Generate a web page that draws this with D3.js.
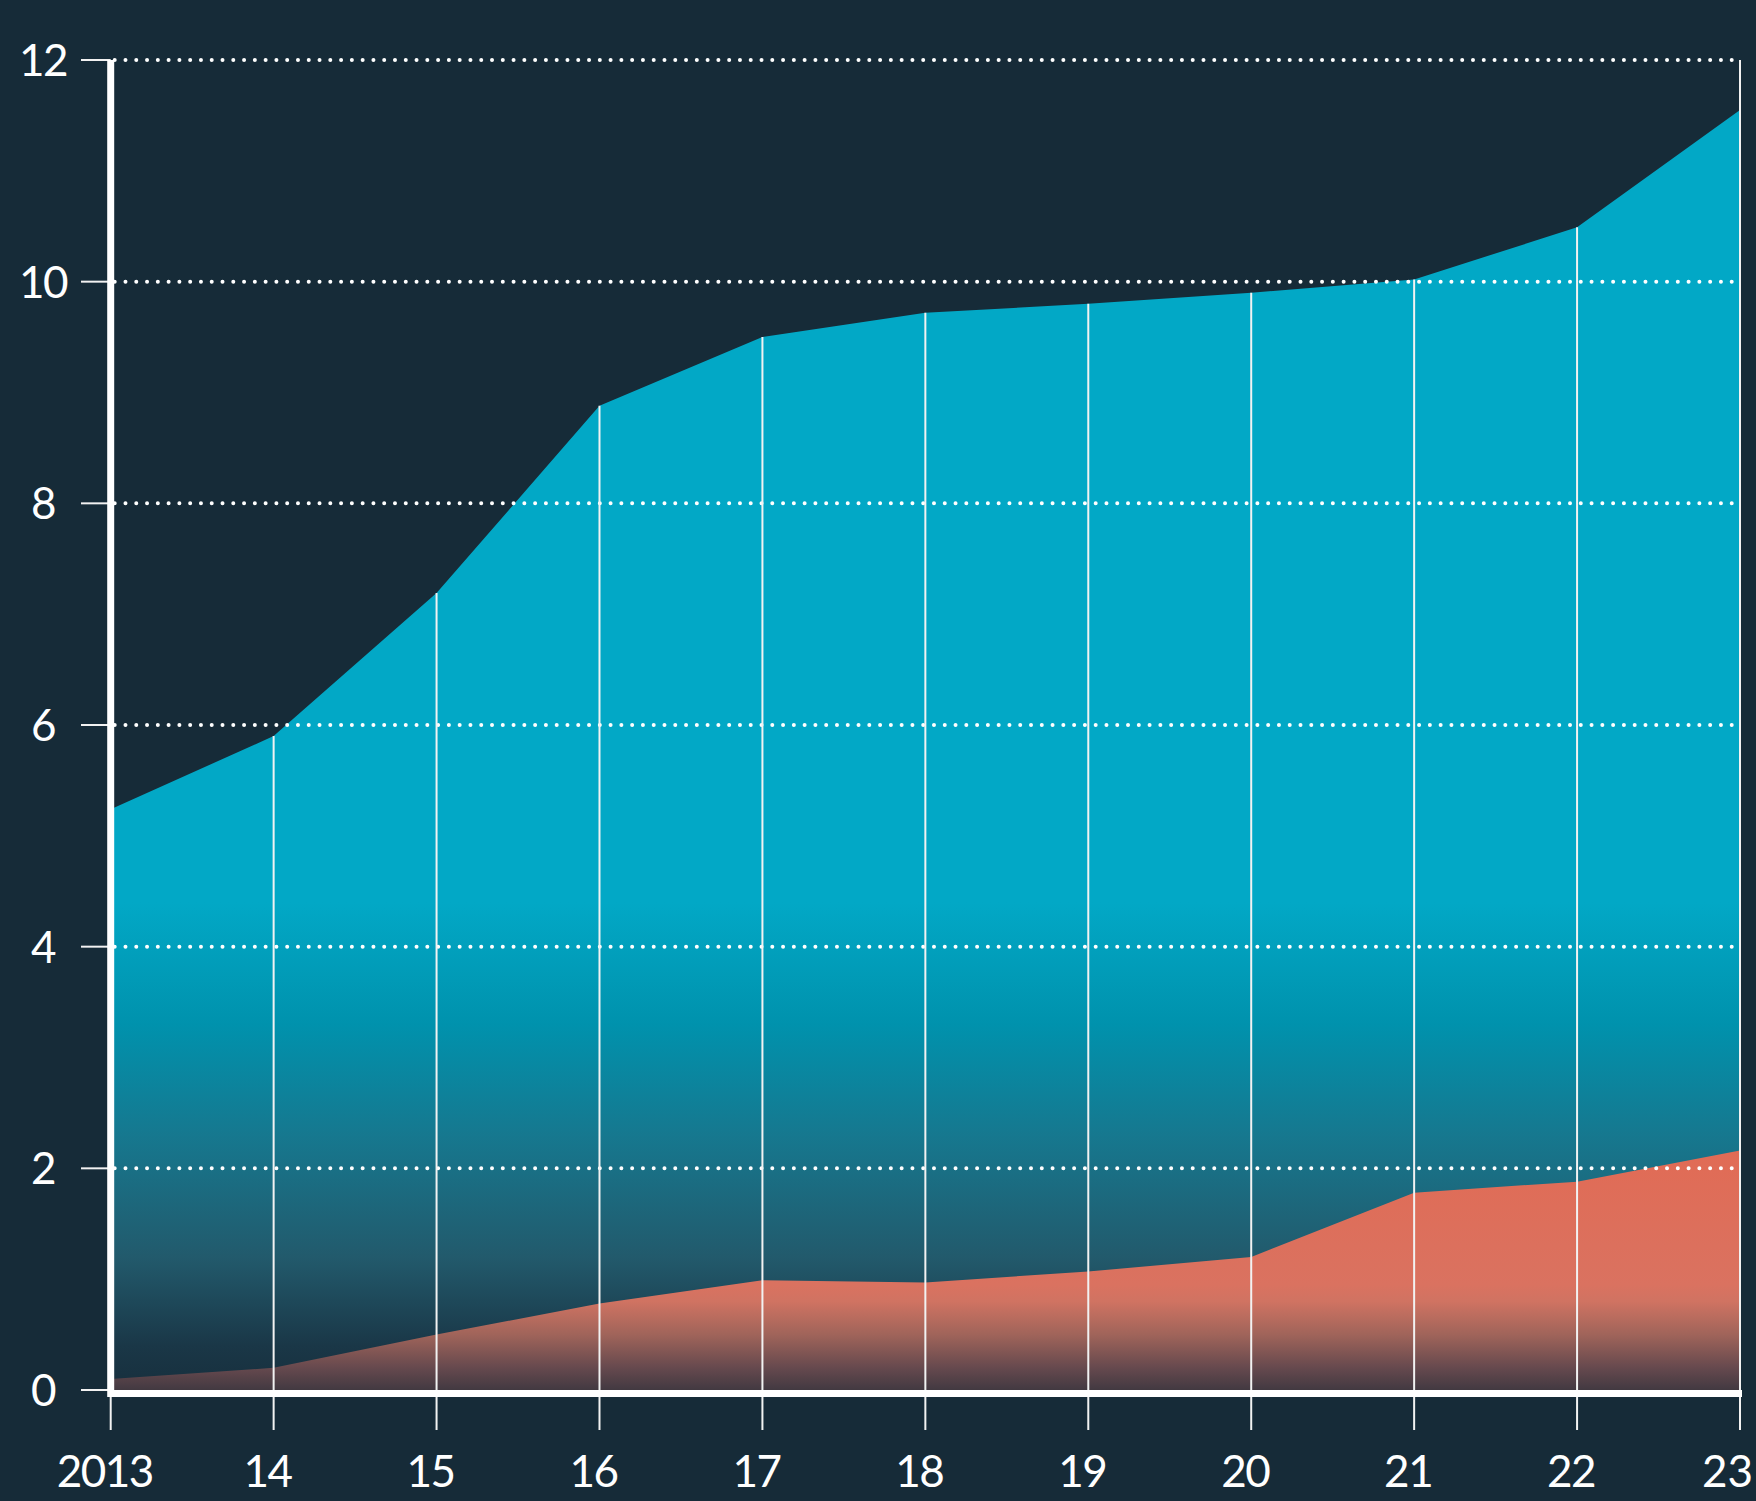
<!DOCTYPE html>
<html>
<head>
<meta charset="utf-8">
<script src="https://cdn.jsdelivr.net/npm/d3@7"></script>
<style>
  html, body { margin: 0; padding: 0; background: #162b38; }
  svg { display: block; }
  text { font-family: Lato, "Open Sans", sans-serif; fill: #fff; }
</style>
</head>
<body>
<svg id="chart"></svg>
<script>
// data
var years = [2013, 2014, 2015, 2016, 2017, 2018, 2019, 2020, 2021, 2022, 2023];
var yearLabels = ["2013", "14", "15", "16", "17", "18", "19", "20", "21", "22", "23"];
var totalValues = [5.24, 5.90, 7.19, 8.88, 9.50, 9.72, 9.80, 9.90, 10.02, 10.49, 11.55];
var subsetValues = [0.10, 0.20, 0.50, 0.78, 0.99, 0.97, 1.07, 1.20, 1.78, 1.88, 2.16];
var yTicks = [0, 2, 4, 6, 8, 10, 12];

var W = 1756, H = 1501;
var svg = d3.select('#chart').attr('width', W).attr('height', H);

svg.append('rect').attr('width', W).attr('height', H).attr('fill', '#162b38');

var x = d3.scaleLinear().domain([2013, 2023]).range([110.7, 1740]);
var y = d3.scaleLinear().domain([0, 12]).range([1390, 60]);

var defs = svg.append('defs');

function gradient(id, stops) {
  var g = defs.append('linearGradient')
    .attr('id', id)
    .attr('gradientUnits', 'userSpaceOnUse')
    .attr('x1', 0).attr('x2', 0)
    .attr('y1', y(stops[0][0])).attr('y2', y(0));
  var top = stops[0][0];
  g.selectAll('stop').data(stops).enter().append('stop')
    .attr('offset', function(d) { return (top - d[0]) / top; })
    .attr('stop-color', function(d) { return d[1]; });
}

gradient('blueFade', [
  [4.4, '#02a8c6'], [3.3, '#0092ad'], [2.3, '#16788f'],
  [1.2, '#225a6c'], [0.4, '#1a3747'], [0, '#172f3d']
]);
gradient('redFade', [
  [2.2, '#e16b55'], [0.95, '#da7260'], [0.8, '#d07362'],
  [0.5, '#a0645a'], [0.2, '#66494e'], [0, '#423941']
]);

var area = d3.area()
  .x(function(d, i) { return x(years[i]); })
  .y0(y(0))
  .y1(function(d) { return y(d); });

svg.append('path').datum(totalValues)
  .attr('d', area).attr('fill', 'url(#blueFade)');
svg.append('path').datum(subsetValues)
  .attr('d', area).attr('fill', 'url(#redFade)');

// dotted horizontal gridlines
svg.append('g').selectAll('line').data(yTicks.slice(1)).enter().append('line')
  .attr('x1', x(2013) + 4).attr('x2', x(2023))
  .attr('y1', function(d) { return y(d); })
  .attr('y2', function(d) { return y(d); })
  .attr('stroke', '#fff')
  .attr('stroke-width', 4)
  .attr('stroke-linecap', 'round')
  .attr('stroke-dasharray', '0.01 10.77');

// vertical lines up to the total value, last one to the top
svg.append('g').selectAll('line').data(years.slice(1)).enter().append('line')
  .attr('x1', function(d) { return x(d); })
  .attr('x2', function(d) { return x(d); })
  .attr('y1', 1430)
  .attr('y2', function(d, i) { return d === 2023 ? y(12) : y(totalValues[i + 1]); })
  .attr('stroke', '#f2f2f2')
  .attr('stroke-width', 2);

// 2013 tick below axis
svg.append('line')
  .attr('x1', x(2013)).attr('x2', x(2013))
  .attr('y1', y(0)).attr('y2', 1430)
  .attr('stroke', '#f2f2f2').attr('stroke-width', 2);

// y ticks
svg.append('g').selectAll('line').data(yTicks).enter().append('line')
  .attr('x1', 81).attr('x2', x(2013))
  .attr('y1', function(d) { return y(d); })
  .attr('y2', function(d) { return y(d); })
  .attr('stroke', '#f2f2f2')
  .attr('stroke-width', 2);

// axis lines
svg.append('line')
  .attr('x1', x(2013)).attr('x2', x(2013))
  .attr('y1', y(12)).attr('y2', y(0) + 7)
  .attr('stroke', '#fff').attr('stroke-width', 7);
svg.append('line')
  .attr('x1', x(2013)).attr('x2', x(2023) + 2)
  .attr('y1', y(0) + 3.5).attr('y2', y(0) + 3.5)
  .attr('stroke', '#fff').attr('stroke-width', 7);

// labels
svg.append('g').selectAll('text').data(yTicks).enter().append('text')
  .text(function(d) { return d; })
  .attr('x', 43)
  .attr('y', function(d) { return y(d) + 16; })
  .attr('text-anchor', 'middle')
  .attr('font-size', 44)
  .attr('letter-spacing', -1.5);

svg.append('g').selectAll('text').data(years).enter().append('text')
  .text(function(d, i) { return yearLabels[i]; })
  .attr('x', function(d) { return d === 2023 ? W - 3 : x(d) - 6; })
  .attr('y', 1487)
  .attr('text-anchor', function(d) { return d === 2023 ? 'end' : 'middle'; })
  .attr('font-size', 44)
  .attr('letter-spacing', function(d) { return d === 2023 ? 0 : -1.5; });
</script>
</body>
</html>
